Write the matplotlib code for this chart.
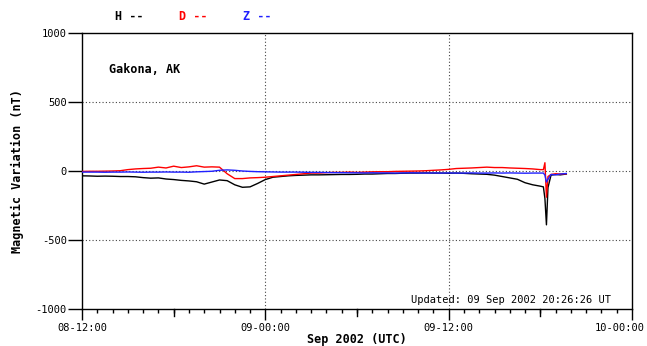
import numpy as np
import matplotlib
matplotlib.use("Agg")
import matplotlib.pyplot as plt
from matplotlib.transforms import ScaledTranslation

# hours since 08-12:00 UTC
t_half = [i * 0.5 for i in range(61)]
t_spike = [30.2, 30.3, 30.4, 30.5, 30.7, 31.0, 31.3, 31.7]
hours = t_half + t_spike

h_vals = [-35, -36, -38, -37, -38, -40, -40, -42, -48, -52,
          -50, -58, -62, -68, -72, -78, -95, -80, -65, -70,
          -100, -118, -115, -90, -62, -45, -40, -35, -32, -30,
          -28, -28, -27, -26, -25, -25, -24, -22, -22, -20,
          -18, -18, -16, -15, -15, -14, -15, -15, -16, -15,
          -17, -20, -22, -24, -30, -40, -50, -60, -85, -100,
          -110,
          -115, -200, -390, -120, -30, -25, -28, -22]

d_vals = [-3, -2, -2, -1, 0, 2, 10, 15, 18, 20,
          28, 22, 35, 25, 30, 38, 28, 30, 28, -20,
          -55, -55, -50, -48, -45, -40, -35, -30, -25, -20,
          -15, -15, -12, -10, -10, -8, -10, -8, -6, -5,
          -5, -3, -2, -1, 0, 2, 5, 8, 12, 18,
          20, 22, 25, 28, 25, 25, 22, 20, 18, 15,
          10,
          10, 60, -190, -40, -25, -20, -22, -20]

z_vals = [-8, -8, -8, -9, -8, -8, -7, -8, -9, -8,
          -8, -7, -8, -8, -9, -6, -4, -2, 5, 8,
          5, 0, -3, -5, -6, -7, -8, -8, -8, -9,
          -10, -10, -11, -12, -12, -13, -13, -14, -13, -14,
          -14, -15, -14, -13, -14, -15, -14, -15, -14, -15,
          -15, -14, -15, -15, -14, -15, -14, -15, -16, -15,
          -15,
          -15, -30, -80, -60, -25, -28, -22, -18]

x_major = [0, 12, 24, 36]
x_labels = ["08-12:00", "09-00:00", "09-12:00", "10-00:00"]
y_ticks = [-1000, -500, 0, 500, 1000]

mono = "DejaVu Sans Mono"

fig = plt.figure(figsize=(6.47, 3.46), dpi=100)
ax = fig.add_axes([82 / 647, 1 - 309 / 346, 550 / 647, 276 / 346])

ax.plot(hours, h_vals, color="black", lw=1.0, zorder=3)
ax.plot(hours, d_vals, color="red", lw=1.0, zorder=3)
ax.plot(hours, z_vals, color="#2020ff", lw=1.0, zorder=3)

ax.set_xlim(0, 36)
ax.set_ylim(-1000, 1000)

ax.set_yticks(y_ticks)
ax.set_yticklabels([str(v) for v in y_ticks], family=mono, fontsize=7.5)
ax.tick_params(axis="y", direction="out", length=10, width=1, pad=1)

ax.set_xticks(x_major)
ax.set_xticklabels(x_labels, family=mono, fontsize=7.5)
ax.tick_params(axis="x", which="major", direction="out", length=8, width=1, pad=2)
ax.set_xticks([h for h in range(37) if h % 12 != 0], minor=True)
ax.tick_params(axis="x", which="minor", direction="out", length=3, width=1)
# longer ticks at 6 hours
for h in [6, 18, 30]:
    ax.plot([h, h], [0, -0.025], transform=ax.get_xaxis_transform(),
            color="black", lw=1, clip_on=False)

# last label pushed left so it stays inside the figure
last = ax.get_xticklabels()[-1]
last.set_horizontalalignment("right")
last.set_transform(last.get_transform() + ScaledTranslation(13 / 100, 0, fig.dpi_scale_trans))

for v in [-500, 0, 500]:
    ax.axhline(v, color="#444444", lw=0.8, ls=(0, (1, 2)), zorder=1)
for h in [12, 24]:
    ax.axvline(h, color="#444444", lw=0.8, ls=(0, (1, 2)), zorder=1)

for s in ax.spines.values():
    s.set_linewidth(1)

ax.set_ylabel("Magnetic Variation (nT)", family=mono, fontweight="bold",
              fontsize=8.5, labelpad=8)
ax.set_xlabel("Sep 2002 (UTC)", family=mono, fontweight="bold",
              fontsize=8.5, labelpad=0)

ax.text(0.049, 0.866, "Gakona, AK", transform=ax.transAxes, family=mono,
        fontweight="bold", fontsize=8.5, va="center", ha="left")
ax.text(0.962, 0.033, "Updated: 09 Sep 2002 20:26:26 UT", transform=ax.transAxes,
        family=mono, fontsize=7.5, va="center", ha="right")

fig.text(0.199, 0.951, "H --", color="black", family=mono, fontweight="bold",
         fontsize=8.5, ha="center", va="center")
fig.text(0.298, 0.951, "D --", color="red", family=mono, fontweight="bold",
         fontsize=8.5, ha="center", va="center")
fig.text(0.397, 0.951, "Z --", color="#2020ff", family=mono, fontweight="bold",
         fontsize=8.5, ha="center", va="center")

fig.savefig("out.png", dpi=100)
